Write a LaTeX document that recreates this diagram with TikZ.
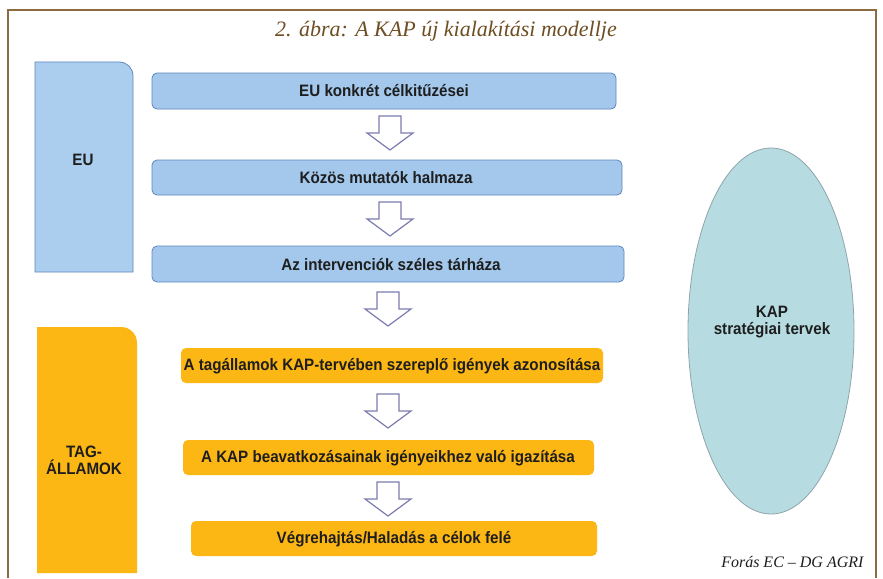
\documentclass[tikz,border=0pt]{standalone}
\usepackage{fontspec}
\newfontfamily\boxfont[FakeStretch=0.92]{Liberation Sans}
\newfontfamily\titlefont{Liberation Serif}
\usetikzlibrary{shapes.geometric}
\definecolor{framec}{HTML}{8C6B3F}
\definecolor{titlec}{HTML}{6E4E22}
\definecolor{bluefill}{HTML}{A3C8EC}
\definecolor{bluedraw}{HTML}{5E86BE}
\definecolor{tallblue}{HTML}{ABCEEE}
\definecolor{orangefill}{HTML}{FDB714}
\definecolor{ellfill}{HTML}{B6DCE1}
\definecolor{elldraw}{HTML}{8FA5AA}
\definecolor{arrowc}{HTML}{7C7CB0}
\definecolor{txt}{HTML}{1E1E1E}
\tikzset{
  bluebox/.style={draw=bluedraw, fill=bluefill, line width=0.8pt, rounded corners=5pt, inner sep=0pt},
  orangebox/.style={fill=orangefill, rounded corners=5pt, inner sep=0pt},
  boxtext/.style={font=\boxfont\bfseries\fontsize{16.5}{18}\selectfont, text=txt, align=center},
  hollow/.style={draw=arrowc, fill=white, line width=1.2pt, line join=miter},
  pics/downarr/.style={code={
    \draw[hollow] (-11,0) -- (11,0) -- (11,17) -- (23,17) -- (0,34) -- (-23,17) -- (-11,17) -- cycle;
  }}
}
\begin{document}
\begin{tikzpicture}[x=1pt,y=-1pt]
\useasboundingbox (0,0) rectangle (883,578);
\fill[white] (0,0) rectangle (883,578);
\draw[framec, line width=1.6pt] (8,578) -- (8,10) -- (876,10) -- (876,578);

\node[font=\titlefont\itshape\fontsize{22}{24}\selectfont, text=titlec] (title) at (446,31) {2. ábra: A KAP új kialakítási modellje};

% tall side boxes
\draw[draw=bluedraw, fill=tallblue, line width=0.8pt] (35,272) -- (35,62) -- (119,62) .. controls (127,62) and (133,68) .. (133,76) -- (133,272) -- cycle;
\node[boxtext] (eu) at (83,160) {EU};
\fill[orangefill] (37,573) -- (37,327) -- (121,327) .. controls (130,327) and (137,334) .. (137,343) -- (137,573) -- cycle;
\node[boxtext, font=\boxfont\bfseries\fontsize{16.5}{17}\selectfont] (tag) at (84,460) {TAG-\\ÁLLAMOK};

% blue steps
\node[bluebox, minimum width=464pt, minimum height=36pt] (b1) at (384,91) {};
\node[boxtext] (t1) at (384,91) {EU konkrét célkitűzései};
\node[bluebox, minimum width=470pt, minimum height=35pt] (b2) at (387,177.5) {};
\node[boxtext] (t2) at (386,178) {Közös mutatók halmaza};
\node[bluebox, minimum width=472pt, minimum height=36pt] (b3) at (388,264) {};
\node[boxtext] (t3) at (391,265) {Az intervenciók széles tárháza};

% orange steps
\node[orangebox, minimum width=422pt, minimum height=35pt] (o1) at (392,365.5) {};
\node[boxtext] (u1) at (392,366) {A tagállamok KAP-tervében szereplő igények azonosítása};
\node[orangebox, minimum width=411pt, minimum height=35pt] (o2) at (388.5,457.5) {};
\node[boxtext] (u2) at (388,458) {A KAP beavatkozásainak igényeikhez való igazítása};
\node[orangebox, minimum width=406pt, minimum height=35pt] (o3) at (394,538.5) {};
\node[boxtext] (u3) at (394,539) {Végrehajtás/Haladás a célok felé};

% hollow arrows
\pic at (390,116) {downarr};
\pic at (390,202) {downarr};
\pic at (388,292) {downarr};
\pic at (388,394) {downarr};
\pic at (388,482) {downarr};

% ellipse
\node[ellipse, draw=elldraw, fill=ellfill, line width=0.8pt, minimum width=166pt, minimum height=366pt, inner sep=0pt] (ell) at (771,331) {};
\node[boxtext, font=\boxfont\bfseries\fontsize{16.5}{17}\selectfont] (kap) at (772,322) {KAP\\stratégiai tervek};

\node[font=\titlefont\itshape\fontsize{16}{18}\selectfont, text=txt, anchor=east] (src) at (867,562) {Forás EC – DG AGRI};
\end{tikzpicture}
\end{document}
